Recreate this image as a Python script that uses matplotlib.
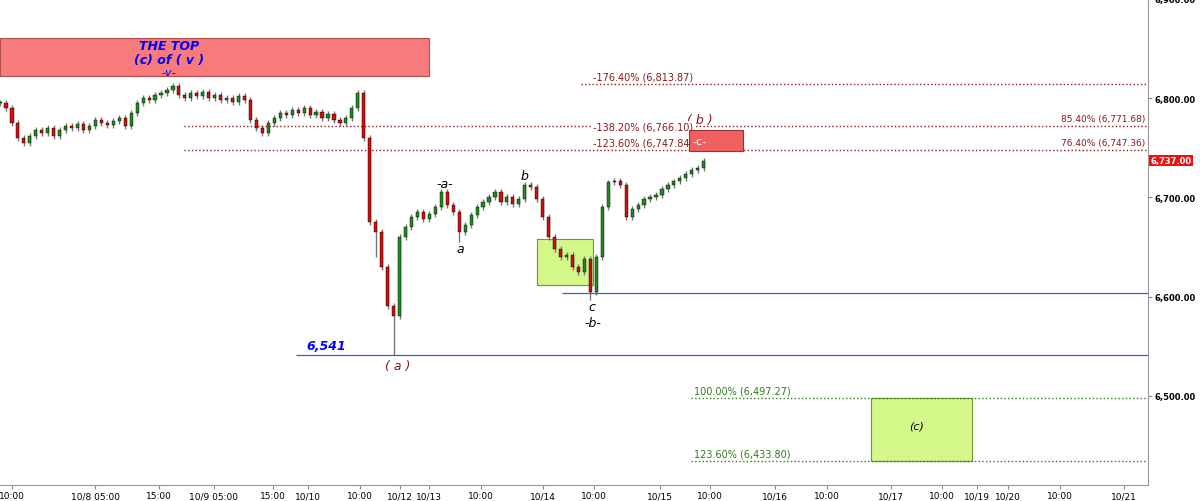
import matplotlib
matplotlib.use("Agg")
import matplotlib.pyplot as plt
from matplotlib.patches import Rectangle

closes = [6795,6790,6775,6760,6755,6762,6768,6765,6770,6762,6768,6772,6770,6774,6768,6772,6778,6775,6773,6777,
          6780,6772,6785,6795,6800,6798,6803,6805,6808,6812,6803,6800,6805,6802,6806,6800,6803,6798,6800,6796,
          6802,6798,6778,6770,6765,6775,6780,6785,6783,6788,6785,6790,6783,6786,6780,6784,6778,6775,6780,6790,
          6805,6760,6675,6665,6630,6590,6580,6660,6670,6680,6685,6678,6683,6690,6705,6692,6685,6665,6672,6682,
          6690,6695,6700,6705,6695,6700,6693,6698,6712,6710,6698,6680,6660,6648,6640,6642,6630,6625,6638,6605,
          6640,6690,6715,6717,6712,6680,6688,6692,6698,6700,6702,6708,6712,6716,6720,6724,6728,6730,6737]
spike_lows = {66: 6541, 99: 6597, 77: 6655, 63: 6640}
bar_step = 6
xtick_pos = [12,96,160,215,275,310,362,402,432,484,546,598,664,714,780,832,896,948,983,1014,1066,1131]
xtick_lab = ["10:00","10/8 05:00","15:00","10/9 05:00","15:00","10/10","10:00","10/12","10/13","10:00","10/14",
             "10:00","10/15","10:00","10/16","10:00","10/17","10:00","10/19","10/20","10:00","10/21"]
yticks = [6500, 6600, 6700, 6800, 6900]

fig = plt.figure(figsize=(12, 5.02), dpi=100)
ax = fig.add_axes([0, 16/502, 1148/1200, 486/502])
ax.set_xlim(0, 1155)
ax.set_ylim(6410, 6900)

prev = closes[0]
for i, c in enumerate(closes):
    x = i * bar_step
    o = prev
    hi = max(o, c) + 3
    lo = spike_lows.get(i, min(o, c) - 3)
    ax.vlines(x, lo, hi, color="#777777", lw=1, zorder=2)
    col = "#1e8c1e" if c >= o else "#d01010"
    h = max(abs(c - o), 1.5)
    ax.add_patch(Rectangle((x - 1.6, min(o, c)), 3.2, h, facecolor=col, edgecolor="black", lw=0.3, zorder=3))
    prev = c

brown = "#8b1a1a"
green = "#2e7d1e"
ax.add_patch(Rectangle((0, 6822), 432, 39, facecolor="#f77b7b", edgecolor="#b05050", lw=0.8, zorder=1))
ax.text(170, 6853, "THE TOP", color="blue", fontsize=9, fontweight="bold", style="italic", ha="center", va="center")
ax.text(170, 6839, "(c) of ( v )", color="blue", fontsize=9, fontweight="bold", style="italic", ha="center", va="center")
ax.text(170, 6826, "-v-", color="blue", fontsize=8, style="italic", ha="center", va="center")

ax.add_patch(Rectangle((693, 6746.6), 55, 21, facecolor="#f06060", edgecolor="#a03030", lw=0.8, zorder=4))
ax.text(704, 6772, "( b )", color=brown, fontsize=9, style="italic", ha="center", va="bottom")
ax.text(704, 6757, "-c-", color="white", fontsize=8, ha="center", va="center", zorder=5)

ax.add_patch(Rectangle((540, 6612), 57, 46, facecolor="#d4f78a", edgecolor="#6a9a30", lw=0.8, zorder=1))
ax.add_patch(Rectangle((876, 6434), 102, 64, facecolor="#d4f78a", edgecolor="#6a9a30", lw=0.8, zorder=1))
ax.text(922, 6470, "(c)", color="black", fontsize=8, style="italic", ha="center", va="center")

ax.hlines(6813.87, 585, 1155, colors=brown, linestyles=":", lw=1)
ax.text(597, 6817, "-176.40% (6,813.87)", color=brown, fontsize=7, va="bottom")
ax.hlines(6771.68, 185, 1155, colors=brown, linestyles=":", lw=1)
ax.text(597, 6771, "-138.20% (6,766.10)", color=brown, fontsize=7, va="center",
        bbox=dict(boxstyle="square,pad=0.05", fc="white", ec="none"))
ax.text(1152, 6775, "85.40% (6,771.68)", color=brown, fontsize=6.5, ha="right", va="bottom")
ax.hlines(6747.6, 185, 1155, colors=brown, linestyles=":", lw=1)
ax.text(597, 6755, "-123.60% (6,747.84)", color=brown, fontsize=7, va="center")
ax.text(1152, 6751, "76.40% (6,747.36)", color=brown, fontsize=6.5, ha="right", va="bottom")

ax.hlines(6497.27, 695, 1155, colors=green, linestyles=":", lw=1)
ax.text(698, 6500, "100.00% (6,497.27)", color=green, fontsize=7, va="bottom")
ax.hlines(6433.8, 695, 1155, colors=green, linestyles=":", lw=1)
ax.text(698, 6437, "123.60% (6,433.80)", color=green, fontsize=7, va="bottom")

ax.hlines(6604, 565, 1155, colors="#5050e0", lw=0.9)
ax.hlines(6541, 298, 1155, colors="#5050e0", lw=0.9)
ax.text(308, 6544, "6,541", color="blue", fontsize=9, fontweight="bold", style="italic", va="bottom")

for x, y, t, c in [(447, 6714, "-a-", "black"), (463, 6648, "a", "black"), (528, 6722, "b", "black"),
                   (595, 6590, "c", "black"), (596, 6574, "-b-", "black"), (400, 6530, "( a )", brown)]:
    ax.text(x, y, t, color=c, fontsize=9, style="italic", ha="center", va="center")

ax.yaxis.tick_right()
ax.set_yticks(yticks)
ax.set_yticklabels([f"{v:,.2f}" for v in yticks], fontsize=6, fontweight="bold")
ax.set_xticks(xtick_pos)
ax.set_xticklabels(xtick_lab, fontsize=6.5)
ax.tick_params(axis="both", length=3, pad=1.5, color="#888888")
for s in ["top", "left"]:
    ax.spines[s].set_visible(False)
ax.spines["right"].set_color("#999999")
ax.spines["bottom"].set_color("#999999")
ax.text(1.002, 6737, "6,737.00", transform=ax.get_yaxis_transform(), color="white", fontsize=6,
        fontweight="bold", va="center", ha="left", bbox=dict(boxstyle="square,pad=0.15", fc="#ee1111", ec="none"),
        clip_on=False)
fig.savefig("out.png", dpi=100)
